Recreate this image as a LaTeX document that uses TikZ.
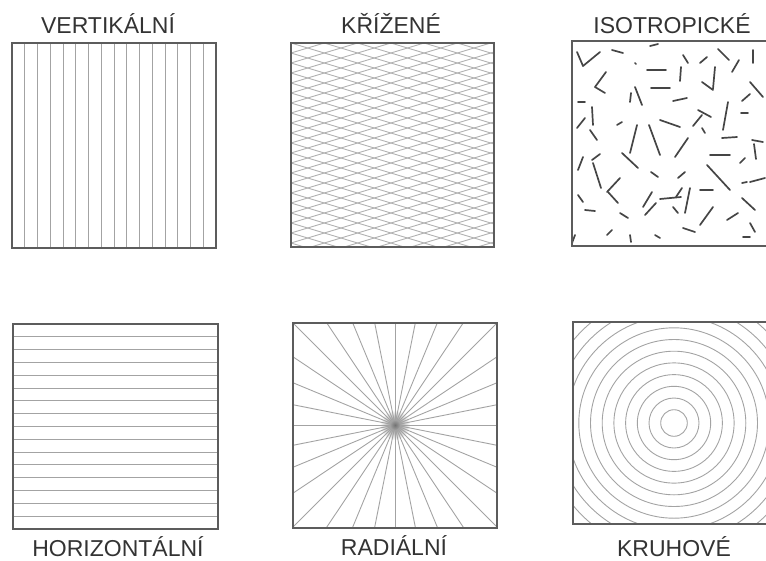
\documentclass[tikz,border=0pt]{standalone}
\usepackage{fontspec}
\setmainfont{Liberation Sans}
\definecolor{framegray}{HTML}{5C5C5C}
\definecolor{hatchgray}{HTML}{A3A3A3}
\definecolor{fibregray}{HTML}{454545}
\definecolor{textgray}{HTML}{333333}

\begin{document}
\begin{tikzpicture}[x=1pt,y=-1pt,
  frame/.style={draw=framegray,line width=1.4pt},
  hatch/.style={draw=hatchgray,line width=0.9pt},
  fibre/.style={draw=fibregray,line width=1.7pt,line cap=round},
  caption/.style={font=\fontsize{23}{26}\selectfont,text=textgray,anchor=base,inner sep=0pt}]
  \useasboundingbox (0,0) rectangle (766,560);
  \clip (0,0) rectangle (766,560);

  % vertical
  \foreach \k in {1,...,15} \draw[hatch] (12+12.75*\k,43) -- (12+12.75*\k,248);
  \draw[frame] (12,43) rectangle (216,248);
  \node[caption] (vert) at (108,33) {VERTIKÁLNÍ};

  % crossed
  \begin{scope}
    \clip (291,43) rectangle (494,247);
    \foreach \i in {-8,...,28} {
      \draw[hatch,draw=hatchgray!85] (291,43+10*\i) -- (494,104+10*\i);
      \draw[hatch,draw=hatchgray!85] (291,43+10*\i) -- (494,-18+10*\i);
    }
  \end{scope}
  \draw[frame] (291,43) rectangle (494,247);
  \node[caption] (cross) at (391,33) {KŘÍŽENÉ};

  % isotropic
  \foreach \a/\b/\c/\d in {577/52/583/66, 583/66/600/52, 612/50/623/53, 650/46/658/44,
      647/70/666/70, 635/63/636/64, 683/55/688/63, 700/63/707/57, 718/49/729/60,
      732/72/739/60, 753/50/753/63, 606/72/595/87, 595/87/605/93, 631/93/630/102,
      635/87/642/105, 651/88/670/88, 681/67/680/81, 702/82/713/90, 715/67/713/89,
      750/82/763/97, 578/102/585/102, 592/107/593/125, 577/128/585/118, 673/101/687/98,
      698/110/711/117, 728/102/723/130, 741/113/748/113, 742/101/750/94, 617/125/622/122,
      660/120/680/127, 693/126/702/115, 702/128/705/133, 637/125/630/153, 649/125/660/155,
      688/138/675/157, 722/138/737/137, 590/130/597/140, 752/140/763/142, 754/144/756/159,
      622/153/638/168, 600/154/592/160, 593/163/601/188, 578/170/583/157, 710/155/730/155,
      740/163/745/158, 651/172/658/177, 678/178/685/172, 707/165/730/190, 620/178/607/192,
      608/192/618/203, 742/183/747/182, 750/182/765/178, 660/199/681/197, 676/197/682/188,
      690/188/685/213, 700/190/713/190, 652/192/643/207, 578/195/583/202, 585/210/595/211,
      742/198/755/210, 713/207/700/225, 673/207/678/213, 620/213/628/218, 645/215/656/203,
      727/220/738/213, 683/228/695/232, 750/223/755/232, 607/235/612/230, 630/235/631/242,
      655/235/660/238, 743/237/750/237, 575/235/572/243}
    \draw[fibre] (\a,\b) -- (\c,\d);
  \draw[frame] (572,41) rectangle (776,246);
  \node[caption] (iso) at (672,33) {ISOTROPICKÉ};

  % horizontal
  \foreach \k in {1,...,15} \draw[hatch] (13,324+12.8*\k) -- (218,324+12.8*\k);
  \draw[frame] (13,324) rectangle (218,529);
  \node[caption] (horiz) at (118,556) {HORIZONTÁLNÍ};

  % radial
  \begin{scope}
    \clip (293,323) rectangle (497,528);
    \shade[inner color=black!55,outer color=white] (395,425) circle[radius=15pt];
    \foreach \a in {0,11.25,...,350} \draw[hatch] (395,425) ++(\a:5) -- ++(\a:170);
  \end{scope}
  \draw[frame] (293,323) rectangle (497,528);
  \node[caption] (radial) at (394,555) {RADIÁLNÍ};

  % circular
  \begin{scope}
    \clip (573,322) rectangle (777,524);
    \foreach[evaluate=\k as \r using 13.3+11.7*\k] \k in {0,...,11}
      \draw[hatch] (674,423) circle[radius=\r pt];
  \end{scope}
  \draw[frame] (573,322) rectangle (777,524);
  \node[caption] (circ) at (674,556) {KRUHOVÉ};
\end{tikzpicture}
\end{document}
